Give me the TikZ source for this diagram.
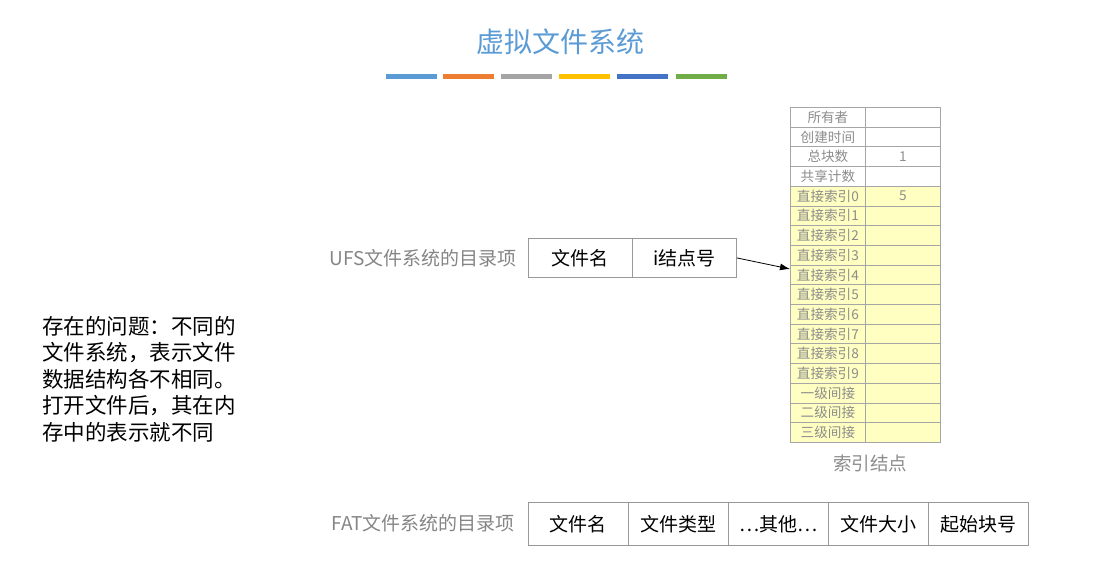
\documentclass[tikz,border=0pt]{standalone}
\usepackage{fontspec}
\setmainfont{Noto Sans CJK SC}
\newfontfamily\cjk{Noto Sans CJK SC}
\usetikzlibrary{arrows.meta}
\definecolor{titleblue}{HTML}{5B9BD5}
\definecolor{barA}{HTML}{5B9BD5}
\definecolor{barB}{HTML}{ED7D31}
\definecolor{barC}{HTML}{A5A5A5}
\definecolor{barD}{HTML}{FFC000}
\definecolor{barE}{HTML}{4472C4}
\definecolor{barF}{HTML}{70AD47}
\definecolor{cellborder}{HTML}{A6A6A6}
\definecolor{celltext}{HTML}{8C8C8C}
\definecolor{cellyellow}{HTML}{FFFFC2}
\definecolor{labelgray}{HTML}{858585}
\definecolor{boxborder}{HTML}{999999}
\tikzset{
  cellL/.style={draw=cellborder, line width=0.8pt, minimum width=75pt, minimum height=19.7pt, inner sep=0pt, anchor=north west, text=celltext, font=\cjk\fontsize{13.6}{13.6}\selectfont},
  cellR/.style={cellL},
  ycell/.style={fill=cellyellow},
  dirbox/.style={draw=boxborder, line width=0.8pt, minimum height=39pt, inner sep=0pt, font=\cjk\fontsize{19}{19}\selectfont, anchor=north west},
  fatbox/.style={draw=boxborder, line width=0.8pt, minimum width=100pt, minimum height=43pt, inner sep=0pt, font=\cjk\fontsize{19}{19}\selectfont, anchor=north west},
  graylabel/.style={text=labelgray, font=\cjk\fontsize{19}{19}\selectfont, inner sep=0pt},
  bar/.style={line width=5pt}
}
\begin{document}
\begin{tikzpicture}[x=1pt,y=-1pt]
\useasboundingbox (0,0) rectangle (1120,571);
% title
\node[text=titleblue, font=\cjk\fontsize{28}{28}\selectfont, inner sep=0pt] (title) at (560,42) {虚拟文件系统};
\draw[bar, barA] (386,76) -- (437,76);
\draw[bar, barB] (443,76) -- (494,76);
\draw[bar, barC] (501,76) -- (552,76);
\draw[bar, barD] (559,76) -- (610,76);
\draw[bar, barE] (617,76) -- (668,76);
\draw[bar, barF] (676,76) -- (727,76);
% inode table
\foreach \i/\t/\v/\y in {0/所有者//0,1/创建时间//0,2/总块数/1/0,3/共享计数//0,
  4/直接索引0/5/1,5/直接索引1//1,6/直接索引2//1,7/直接索引3//1,8/直接索引4//1,
  9/直接索引5//1,10/直接索引6//1,11/直接索引7//1,12/直接索引8//1,13/直接索引9//1,
  14/一级间接//1,15/二级间接//1,16/三级间接//1}{
  \ifnum\y=1
    \node[cellL, ycell] (l\i) at (790,107+19.7*\i) {\t};
    \node[cellR, ycell] (r\i) at (865,107+19.7*\i) {\v};
  \else
    \node[cellL] (l\i) at (790,107+19.7*\i) {\t};
    \node[cellR] (r\i) at (865,107+19.7*\i) {\v};
  \fi
}
\node[text=celltext, font=\cjk\fontsize{18.5}{18.5}\selectfont, inner sep=0pt] (inodelbl) at (870,463) {索引结点};
% UFS
\node[dirbox, minimum width=104pt] (ufsname) at (528,238) {文件名};
\node[dirbox, minimum width=104pt] (ufsino) at (632,238) {i结点号};
\node[graylabel, anchor=east] (ufslbl) at (517,258) {UFS文件系统的目录项};
\coordinate (tgt) at (790,269);
\draw[-{Latex[length=10pt,width=7pt]}, line width=0.8pt] (ufsino.east) -- (tgt);
% FAT
\node[fatbox] (f1) at (528,502) {文件名};
\node[fatbox] (f2) at (628,502) {文件类型};
\node[fatbox] (f3) at (728,502) {…其他…};
\node[fatbox] (f4) at (828,502) {文件大小};
\node[fatbox] (f5) at (928,502) {起始块号};
\node[graylabel, anchor=east] (fatlbl) at (515,523) {FAT文件系统的目录项};
% left text
\node[anchor=north west, inner sep=0pt, align=left, font=\cjk\fontsize{21.5}{26.5}\selectfont] (problem) at (42,316) {存在的问题：不同的\\文件系统，表示文件\\数据结构各不相同。\\打开文件后，其在内\\存中的表示就不同};
\end{tikzpicture}
\end{document}
